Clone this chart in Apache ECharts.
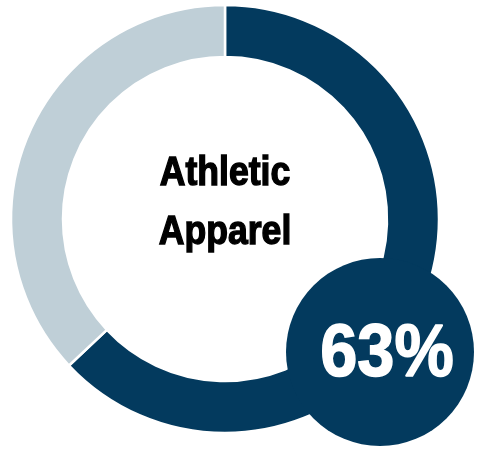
<!DOCTYPE html>
<html>
<head>
<meta charset="utf-8">
<script src="https://cdn.jsdelivr.net/npm/echarts@6/dist/echarts.min.js"></script>
<style>
  html, body { margin: 0; padding: 0; background: #ffffff; }
  #chart { width: 480px; height: 449px; }
</style>
</head>
<body>
<div id="chart"></div>
<script>
// Share of the category vs. the remainder
const segments = ['Athletic Apparel', 'Other'];
const shares = [63, 37];
const titleLines = ['Athletic', 'Apparel'];

const DARK = '#033a5e';
const LIGHT = '#bfcfd7';
// Bold sans, squeezed horizontally and thickened for a condensed heavy look
const FONT = "'Liberation Sans', Arial, sans-serif";

const chart = echarts.init(document.getElementById('chart'), null, { renderer: 'canvas' });

const titleY = [174, 233];
const titleText = titleLines.map((line, i) => ({
  type: 'text',
  x: 225,
  y: titleY[i],
  scaleX: 0.89,
  z: 10,
  style: {
    text: line,
    fill: '#000000',
    stroke: '#000000',
    lineWidth: 1.4,
    font: 'bold 40px ' + FONT,
    align: 'center',
    verticalAlign: 'middle'
  }
}));

chart.setOption({
  animation: false,
  graphic: titleText.concat([{
    // Headline share printed on the badge
    type: 'text',
    x: 387,
    y: 355,
    scaleX: 0.89,
    z: 20,
    style: {
      text: shares[0] + '%',
      fill: '#ffffff',
      stroke: '#ffffff',
      lineWidth: 1.6,
      font: 'bold 75px ' + FONT,
      align: 'center',
      verticalAlign: 'middle'
    }
  }]),
  series: [
    {
      type: 'pie',
      center: [225, 219],
      radius: [162, 214],
      startAngle: 90,
      clockwise: true,
      silent: true,
      label: { show: false },
      labelLine: { show: false },
      itemStyle: { borderColor: '#ffffff', borderWidth: 2.5 },
      data: segments.map((name, i) => ({
        name: name,
        value: shares[i],
        itemStyle: { color: i === 0 ? DARK : LIGHT }
      }))
    },
    {
      // Badge disc behind the headline share
      type: 'pie',
      center: [380, 352],
      radius: [0, 94],
      silent: true,
      z: 5,
      label: { show: false },
      labelLine: { show: false },
      itemStyle: { color: DARK },
      data: [{ name: segments[0], value: shares[0] }]
    }
  ]
});
</script>
</body>
</html>
